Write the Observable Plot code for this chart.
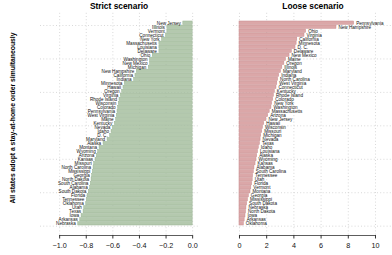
<!DOCTYPE html>
<html><head><meta charset="utf-8">
<script src="https://cdn.jsdelivr.net/npm/d3@7"></script>
<script src="https://cdn.jsdelivr.net/npm/@observablehq/plot@0.6"></script>
<style>
body{margin:0;background:#fff;}
#wrap{position:relative;width:392px;height:255px;font-family:"Liberation Sans",Arial,Helvetica,sans-serif;overflow:hidden;}
.ttl{position:absolute;font-weight:bold;font-size:8.4px;line-height:1;top:2px;transform:translateX(-50%);white-space:nowrap;color:#000;}
#ylab{position:absolute;left:12.5px;top:118px;font-weight:bold;font-size:6.8px;line-height:1;transform:translate(-50%,-50%) rotate(-90deg);white-space:nowrap;color:#000;}
.p{position:absolute;top:0;}
</style></head><body>
<div id="wrap">
  <div class="ttl" style="left:119px">Strict scenario</div>
  <div class="ttl" style="left:313px">Loose scenario</div>
  <div id="ylab">All states adopt a stay-at-home order simultaneously</div>
  <div class="p" id="left" style="left:0px"></div>
  <div class="p" id="right" style="left:200px"></div>
</div>
<script>
const strictStates = ["New Jersey","Illinois","Vermont","Connecticut","New York","Massachusetts","Louisiana","Delaware","Ohio","Washington","New Mexico","Michigan","New Hampshire","California","Indiana","Minnesota","Hawaii","Oregon","Virginia","Rhode Island","Wisconsin","Colorado","Pennsylvania","West Virginia","Maine","Kentucky","Nevada","Idaho","D. C.","Maryland","Alaska","Montana","Wyoming","Arizona","Kansas","Missouri","North Carolina","Mississippi","Georgia","North Dakota","South Carolina","Alabama","South Dakota","Florida","Tennessee","Oklahoma","Utah","Texas","Iowa","Arkansas","Nebraska"];
const strictValues = [-0.07,-0.19,-0.19,-0.20,-0.23,-0.25,-0.25,-0.25,-0.30,-0.32,-0.32,-0.33,-0.42,-0.43,-0.44,-0.51,-0.52,-0.53,-0.54,-0.55,-0.555,-0.56,-0.565,-0.57,-0.575,-0.585,-0.60,-0.61,-0.62,-0.64,-0.67,-0.70,-0.71,-0.72,-0.73,-0.74,-0.745,-0.75,-0.755,-0.76,-0.765,-0.77,-0.78,-0.79,-0.795,-0.80,-0.815,-0.82,-0.835,-0.845,-0.86];
const looseStates = ["Pennsylvania","New Hampshire","Ohio","Virginia","California","Minnesota","D. C.","Delaware","New Mexico","Maine","Oregon","Illinois","Maryland","Indiana","North Carolina","West Virginia","Connecticut","Kentucky","Rhode Island","Colorado","New York","Washington","Massachusetts","Arizona","New Jersey","Hawaii","Wisconsin","Missouri","Michigan","Nevada","Texas","Idaho","Louisiana","Alaska","Wyoming","Kansas","Alabama","South Carolina","Tennessee","Utah","Florida","Vermont","Montana","Georgia","Mississippi","South Dakota","Nebraska","North Dakota","Iowa","Arkansas","Oklahoma"];
const looseValues = [8.43,7.13,4.9,4.78,4.25,4.2,4.12,3.85,3.68,3.42,3.3,3.15,3.05,2.92,2.84,2.78,2.72,2.6,2.53,2.48,2.4,2.35,2.22,2.11,1.98,1.82,1.72,1.67,1.6,1.55,1.5,1.42,1.36,1.3,1.25,1.18,1.1,1.05,1.0,0.97,0.93,0.87,0.81,0.69,0.62,0.56,0.51,0.48,0.44,0.38,0.32];
const strictTicks = [-1.0,-0.8,-0.6,-0.4,-0.2,0.0];
const looseTicks = [0,2,4,6,8,10];
const barGridTicks = [0,10,20,30,40,50,60];

// R barplot geometry: bar width 1, space 0.2
function rows(states, values){
  const n = states.length;
  return states.map((s,i)=>({state:s, value:values[i], pos:0.2 + 1.2*(n-1-i)}));
}
const strictData = rows(strictStates, strictValues);
const looseData = rows(looseStates, looseValues);

const yOpt = {domain:[-2.79, 63.65], axis:null};
const gridStyle = {stroke:"#cfcfcf", strokeWidth:0.8, strokeDasharray:"1,2.2"};
const fontStyle = {fontFamily:"'Liberation Sans', Arial, Helvetica, sans-serif", background:"transparent", overflow:"visible"};

const left = Plot.plot({
  width:200, height:255,
  marginLeft:40, marginRight:2, marginTop:12.8, marginBottom:20,
  style:fontStyle,
  x:{domain:[-1.144, 0.044], axis:null},
  y:yOpt,
  marks:[
    Plot.ruleX(strictTicks, {...gridStyle}),
    Plot.ruleY(barGridTicks, {...gridStyle}),
    Plot.rectX(strictData, {x1:"value", x2:0, y1:"pos", y2:d=>d.pos+1, fill:"#b4c9ae", stroke:"#98b391", strokeWidth:0.5}),
    Plot.text(strictData, {x:"value", y:d=>d.pos+0.5, text:"state", textAnchor:"end", dx:-2.5, fontSize:4.6, fill:"#111"}),
    Plot.ruleY([-2.79], {x1:d3.min(strictTicks), x2:d3.max(strictTicks), stroke:"#333", strokeWidth:0.8}),
    Plot.axisX(strictTicks, {anchor:"bottom", label:null, tickSize:3.5, tickPadding:4, tickFormat:d3.format(".1f"), fontSize:7.2, stroke:"#333", fill:"#111"})
  ]
});
document.getElementById("left").appendChild(left);

const right = Plot.plot({
  width:192, height:255,
  marginLeft:33, marginRight:0, marginTop:12.8, marginBottom:20,
  style:fontStyle,
  x:{domain:[-0.44, 11.25], axis:null},
  y:yOpt,
  marks:[
    Plot.ruleX(looseTicks, {...gridStyle}),
    Plot.ruleY(barGridTicks, {...gridStyle}),
    Plot.rectX(looseData, {x1:0, x2:"value", y1:"pos", y2:d=>d.pos+1, fill:"#dba7a8", stroke:"#c98d8f", strokeWidth:0.5}),
    Plot.text(looseData, {x:"value", y:d=>d.pos+0.5, text:"state", textAnchor:"start", dx:2, fontSize:4.6, fill:"#111"}),
    Plot.ruleY([-2.79], {x1:d3.min(looseTicks), x2:d3.max(looseTicks), stroke:"#333", strokeWidth:0.8}),
    Plot.axisX(looseTicks, {anchor:"bottom", label:null, tickSize:3.5, tickPadding:4, tickFormat:d3.format("d"), fontSize:7.2, stroke:"#333", fill:"#111"})
  ]
});
document.getElementById("right").appendChild(right);
</script>
</body></html>
